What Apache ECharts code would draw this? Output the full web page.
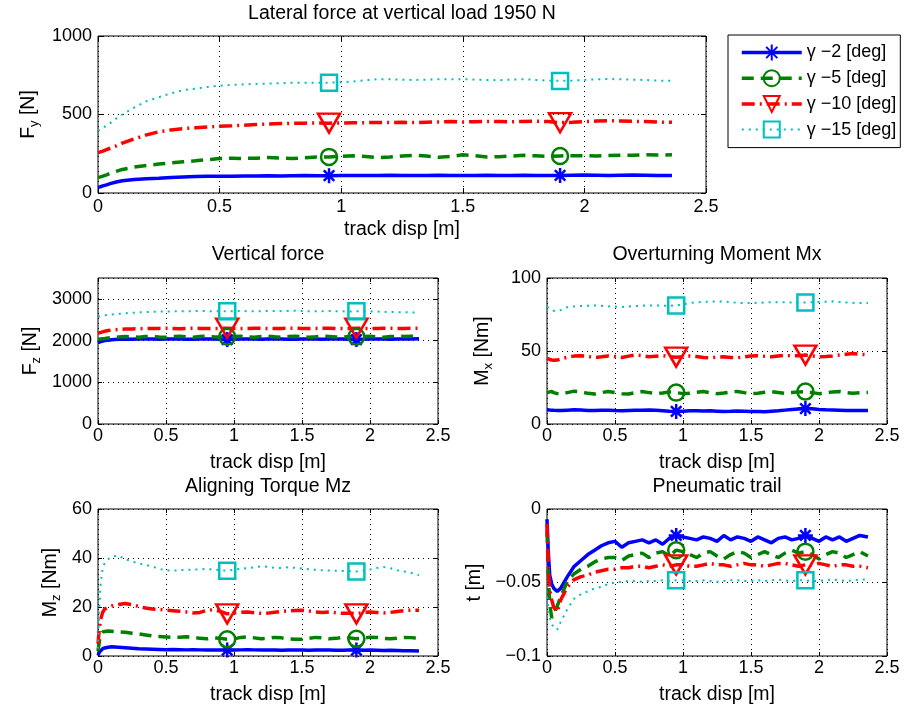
<!DOCTYPE html>
<html>
<head>
<meta charset="utf-8">
<script src="https://cdn.jsdelivr.net/npm/echarts@6/dist/echarts.min.js"></script>
<style>
  html, body { margin: 0; padding: 0; background: #fff; }
  #chart { width: 912px; height: 712px; }
</style>
</head>
<body>
<div id="chart"></div>
<script>
// Track displacement [m] shared by every measured curve
const TRACK_DISP = [0, 0.01, 0.02, 0.035, 0.05, 0.075, 0.1, 0.15, 0.2, 0.25, 0.3, 0.35, 0.4, 0.45, 0.5,
  0.55, 0.6, 0.65, 0.7, 0.75, 0.8, 0.85, 0.9, 0.95, 1.0, 1.05, 1.1, 1.15, 1.2, 1.25, 1.3, 1.35, 1.4, 1.45,
  1.5, 1.55, 1.6, 1.65, 1.7, 1.75, 1.8, 1.85, 1.9, 1.95, 2.0, 2.05, 2.1, 2.15, 2.2, 2.25, 2.3, 2.36];
// Displacements where the curve markers are placed
const MARKER_DISP = [0.95, 1.9];
const CAMBER_NAMES = ['γ −2 [deg]', 'γ −5 [deg]', 'γ −10 [deg]', 'γ −15 [deg]'];

// Lateral force Fy [N]
const FY_2 = [36, 40, 45, 52, 60, 70, 78, 86, 90, 94, 99, 102, 105, 106, 106, 107, 108, 109, 110, 109, 110, 111, 110, 110,
  111, 112, 111, 112, 113, 112, 111, 112, 113, 112, 111, 112, 113, 112, 112, 113, 112, 112, 112, 113, 114, 113, 112, 113, 114, 113, 112, 111];
const FY_5 = [99, 103, 108, 116, 125, 138, 150, 165, 176, 184, 192, 199, 205, 212, 220, 222, 220, 222, 226, 223, 220, 224, 229, 230,
  234, 237, 232, 226, 229, 236, 240, 235, 228, 233, 243, 238, 230, 231, 235, 240, 237, 234, 236, 238, 237, 236, 239, 241, 240, 243, 242, 243];
const FY_10 = [258, 262, 267, 276, 285, 300, 318, 345, 370, 390, 402, 410, 415, 420, 425, 428, 432, 436, 440, 442, 444, 445, 446, 445,
  446, 447, 448, 449, 449, 450, 449, 451, 453, 455, 452, 454, 456, 455, 454, 456, 458, 455, 448, 450, 455, 458, 460, 459, 456, 455, 452, 450];
const FY_15 = [396, 405, 415, 430, 445, 475, 500, 545, 585, 610, 635, 655, 665, 675, 684, 688, 692, 695, 697, 699, 702, 703, 703, 703,
  705, 710, 718, 725, 724, 722, 720, 722, 724, 725, 725, 722, 720, 718, 722, 725, 720, 716, 714, 716, 720, 725, 726, 724, 722, 720, 716, 714];

// Vertical force Fz [N]
const FZ_2 = [1950, 1960, 1975, 1990, 2000, 2010, 2020, 2030, 2035, 2030, 2035, 2040, 2035, 2030, 2035, 2040, 2035, 2030, 2030, 2035,
  2040, 2035, 2030, 2025, 2030, 2035, 2040, 2035, 2030, 2035, 2040, 2035, 2030, 2030, 2035, 2040, 2035, 2030, 2035, 2040, 2035, 2030,
  2025, 2030, 2035, 2040, 2035, 2030, 2035, 2040, 2040, 2045];
const FZ_5 = [2030, 2035, 2040, 2045, 2050, 2060, 2070, 2085, 2095, 2090, 2080, 2095, 2100, 2085, 2080, 2095, 2105, 2090, 2080, 2095,
  2105, 2090, 2080, 2090, 2100, 2105, 2085, 2080, 2095, 2105, 2090, 2080, 2095, 2105, 2090, 2080, 2090, 2105, 2100, 2085, 2080, 2095,
  2090, 2100, 2105, 2090, 2080, 2095, 2105, 2100, 2105, 2110];
const FZ_10 = [2175, 2185, 2195, 2210, 2225, 2240, 2254, 2265, 2275, 2280, 2285, 2288, 2290, 2292, 2295, 2290, 2285, 2290, 2295, 2292,
  2288, 2290, 2293, 2295, 2290, 2288, 2292, 2296, 2294, 2290, 2288, 2292, 2296, 2294, 2290, 2288, 2292, 2296, 2294, 2290, 2288, 2292,
  2295, 2293, 2290, 2292, 2296, 2294, 2290, 2292, 2295, 2295];
const FZ_15 = [2573, 2580, 2585, 2595, 2605, 2615, 2625, 2640, 2655, 2665, 2675, 2685, 2690, 2695, 2695, 2700, 2705, 2700, 2705, 2710,
  2705, 2700, 2705, 2700, 2705, 2710, 2705, 2700, 2705, 2710, 2710, 2705, 2710, 2715, 2710, 2705, 2700, 2705, 2710, 2705, 2700, 2695,
  2700, 2705, 2700, 2695, 2690, 2685, 2680, 2680, 2675, 2670];

// Overturning moment Mx [Nm]
const MX_2 = [9.8, 9.7, 9.6, 9.5, 9.4, 9.3, 9.2, 9.5, 9.7, 9.6, 9.3, 9.2, 9.4, 9.5, 9.2, 9.0, 9.3, 9.5, 9.4, 9.6, 9.4, 9.1, 8.8, 8.6,
  8.8, 9.0, 9.1, 8.9, 9.0, 8.8, 8.6, 8.7, 8.9, 8.8, 8.6, 8.5, 8.4, 8.7, 9.0, 9.5, 9.9, 10.3, 10.6, 10.4, 10.0, 9.7, 9.6, 9.4, 9.2, 9.3, 9.2, 9.2];
const MX_5 = [21.6, 21.8, 22.0, 22.2, 21.5, 20.8, 20.5, 21.5, 22.5, 22.0, 21.0, 20.5, 21.5, 22.3, 21.5, 20.8, 20.6, 21.5, 22.2, 21.5,
  20.8, 21.2, 22.0, 21.5, 20.8, 21.0, 21.8, 22.2, 21.4, 20.8, 21.2, 22.0, 22.3, 21.5, 20.8, 21.0, 21.8, 22.2, 21.6, 21.0, 21.5, 22.0,
  22.2, 21.5, 20.8, 21.2, 22.0, 22.3, 21.5, 21.0, 21.4, 21.6];
const MX_10 = [45.0, 44.6, 44.2, 43.8, 43.6, 43.8, 44.5, 45.8, 46.5, 46.8, 46.3, 45.5, 46.0, 46.6, 46.2, 45.6, 46.5, 47.2, 46.8, 46.0,
  46.4, 46.8, 46.2, 45.8, 46.0, 46.6, 46.2, 45.6, 45.4, 45.8, 46.0, 45.6, 45.4, 46.0, 46.5, 46.8, 46.4, 46.0, 46.6, 47.0, 46.6, 46.8,
  47.2, 46.6, 46.0, 46.2, 46.6, 47.2, 47.8, 48.3, 47.8, 47.4];
const MX_15 = [80.2, 79.5, 78.8, 78.0, 77.5, 77.3, 78.0, 80.0, 80.5, 80.8, 81.0, 81.2, 81.0, 80.6, 80.4, 80.2, 80.5, 80.8, 81.0, 81.2,
  81.2, 81.0, 81.0, 81.2, 82.0, 82.8, 83.4, 83.6, 83.8, 84.0, 83.8, 83.5, 83.0, 82.8, 82.8, 83.0, 83.2, 83.4, 83.4, 83.3, 83.2, 83.2,
  83.2, 83.4, 83.6, 83.8, 84.0, 83.6, 83.2, 83.0, 82.8, 82.8];

// Aligning torque Mz [Nm]
const MZ_2 = [0.3, 1.6, 2.4, 3.0, 3.3, 3.6, 3.8, 3.6, 3.4, 3.2, 3.0, 2.9, 2.8, 2.7, 2.6, 2.7, 2.6, 2.5, 2.6, 2.5, 2.4, 2.5, 2.5, 2.4,
  2.4, 2.5, 2.6, 2.5, 2.4, 2.5, 2.4, 2.3, 2.4, 2.5, 2.4, 2.3, 2.4, 2.5, 2.4, 2.3, 2.3, 2.4, 2.4, 2.3, 2.4, 2.3, 2.2, 2.3, 2.2, 2.1, 2.1, 2.0];
const MZ_5 = [2.0, 6.0, 8.5, 9.8, 10.0, 10.2, 10.1, 9.9, 9.7, 9.3, 9.0, 8.6, 8.2, 8.0, 7.8, 7.6, 7.7, 7.9, 7.6, 7.2, 7.0, 7.4, 7.2, 6.8,
  7.0, 7.6, 7.8, 7.4, 7.0, 7.2, 7.6, 7.4, 7.0, 6.8, 6.8, 7.2, 7.6, 7.4, 7.0, 7.2, 7.6, 7.4, 7.0, 7.3, 7.7, 7.6, 7.2, 7.0, 7.3, 7.6, 7.5, 7.3];
const MZ_10 = [5.0, 11.0, 15.0, 18.0, 19.2, 19.8, 20.4, 21.0, 21.4, 21.0, 20.2, 19.6, 19.2, 19.0, 18.7, 18.5, 18.3, 18.0, 17.6, 17.8,
  18.6, 18.9, 18.2, 17.2, 17.6, 17.8, 18.0, 17.6, 17.4, 17.5, 17.9, 18.2, 18.4, 18.6, 18.7, 18.4, 18.0, 17.8, 18.0, 17.6, 17.4, 17.5,
  17.2, 17.8, 18.0, 17.8, 17.6, 17.8, 18.2, 18.5, 18.7, 18.7];
const MZ_15 = [3.0, 20.0, 30.0, 36.0, 38.0, 39.5, 40.5, 41.0, 39.5, 38.6, 37.8, 37.2, 36.5, 35.6, 34.9, 34.8, 35.0, 35.2, 35.2, 35.4,
  35.5, 35.3, 35.0, 34.8, 35.2, 35.6, 35.9, 36.2, 36.6, 36.4, 36.0, 35.9, 36.2, 36.0, 35.7, 35.4, 35.2, 35.0, 34.9, 34.8, 34.7, 34.6,
  34.5, 34.8, 35.3, 35.9, 36.3, 35.8, 35.0, 34.5, 34.0, 33.0];

// Pneumatic trail t [m]
const TRAIL_2 = [-0.007, -0.030, -0.045, -0.051, -0.054, -0.056, -0.054, -0.046, -0.039, -0.035, -0.031, -0.028, -0.025, -0.023,
  -0.022, -0.026, -0.023, -0.022, -0.021, -0.023, -0.021, -0.024, -0.020, -0.018, -0.019, -0.020, -0.021, -0.019, -0.020, -0.022,
  -0.018, -0.021, -0.019, -0.020, -0.022, -0.019, -0.021, -0.023, -0.020, -0.019, -0.021, -0.020, -0.018, -0.020, -0.022, -0.019,
  -0.021, -0.019, -0.022, -0.020, -0.018, -0.019];
const TRAIL_5 = [-0.015, -0.045, -0.065, -0.074, -0.072, -0.066, -0.060, -0.049, -0.044, -0.041, -0.039, -0.036, -0.034, -0.033,
  -0.033, -0.035, -0.032, -0.031, -0.030, -0.033, -0.030, -0.029, -0.032, -0.028, -0.029, -0.031, -0.033, -0.030, -0.029, -0.032,
  -0.034, -0.031, -0.029, -0.030, -0.033, -0.031, -0.029, -0.031, -0.033, -0.030, -0.028, -0.030, -0.029, -0.031, -0.034, -0.031,
  -0.029, -0.030, -0.033, -0.031, -0.029, -0.032];
const TRAIL_10 = [-0.010, -0.040, -0.055, -0.062, -0.067, -0.070, -0.062, -0.053, -0.048, -0.046, -0.045, -0.043, -0.042, -0.041,
  -0.041, -0.040, -0.040, -0.039, -0.039, -0.040, -0.039, -0.038, -0.039, -0.038, -0.038, -0.039, -0.039, -0.038, -0.037, -0.038,
  -0.038, -0.039, -0.038, -0.037, -0.038, -0.038, -0.039, -0.038, -0.037, -0.037, -0.038, -0.039, -0.038, -0.038, -0.037, -0.038,
  -0.039, -0.038, -0.038, -0.039, -0.039, -0.040];
const TRAIL_15 = [-0.060, -0.068, -0.074, -0.078, -0.081, -0.082, -0.077, -0.068, -0.061, -0.058, -0.056, -0.054, -0.053, -0.051,
  -0.050, -0.0495, -0.049, -0.049, -0.0495, -0.049, -0.049, -0.0485, -0.049, -0.0485, -0.0485, -0.049, -0.049, -0.0485, -0.049,
  -0.0495, -0.049, -0.0485, -0.0485, -0.049, -0.049, -0.0485, -0.049, -0.0485, -0.048, -0.0485, -0.049, -0.0485, -0.0485, -0.049,
  -0.049, -0.0485, -0.048, -0.0485, -0.049, -0.0485, -0.048, -0.048];

const FONT = '"Liberation Sans", Arial, Helvetica, sans-serif';
const TICK_FONT = 18;
const LABEL_FONT = 19.5;

// Asterisk marker made of four stroked spokes
const ASTERISK = 'path://M0,-10L0,10M-10,0L10,0M-7,-7L7,7M-7,7L7,-7';

const CURVE_STYLES = [
  { color: '#0000ff', width: 3.5, type: 'solid', symbol: ASTERISK, size: 15, rotate: 0 },
  { color: '#008000', width: 3.5, type: [12, 7], symbol: 'circle', size: 16, rotate: 0 },
  { color: '#ff0000', width: 3.5, type: [13, 5, 2, 5], symbol: 'triangle', size: [22, 19], rotate: 180 },
  { color: '#00bfbf', width: 2, type: [2, 5], symbol: 'rect', size: 16, rotate: 0 }
];

const PANELS = [
  { title: 'Lateral force at vertical load 1950 N', box: [98, 36, 608, 157], titleTop: 4,
    yMin: 0, yMax: 1000, yStep: 500, yName: '{m|F}{s|y}{m| [N]}', yGap: 51,
    curves: [FY_2, FY_5, FY_10, FY_15], tick: 5, xMargin: 5, xNameGap: 27 },
  { title: 'Vertical force', box: [98, 278, 340, 146], titleTop: 245,
    yMin: 0, yMax: 3500, yStep: 1000, yName: '{m|F}{s|z}{m| [N]}', yGap: 55, hideMax: true,
    curves: [FZ_2, FZ_5, FZ_10, FZ_15], tick: 4, xMargin: 3, xNameGap: 29 },
  { title: 'Overturning Moment Mx', box: [547, 278, 340, 146], titleTop: 245,
    yMin: 0, yMax: 100, yStep: 50, yName: '{m|M}{s|x}{m| [Nm]}', yGap: 52,
    curves: [MX_2, MX_5, MX_10, MX_15], tick: 4, xMargin: 3, xNameGap: 29 },
  { title: 'Aligning Torque Mz', box: [98, 509, 340, 147], titleTop: 477,
    yMin: 0, yMax: 60, yStep: 20, yName: '{m|M}{s|z}{m| [Nm]}', yGap: 35,
    curves: [MZ_2, MZ_5, MZ_10, MZ_15], tick: 4, xMargin: 3, xNameGap: 29 },
  { title: 'Pneumatic trail', box: [547, 509, 340, 147], titleTop: 477,
    yMin: -0.1, yMax: 0, yStep: 0.05, yName: '{m|t [m]}', yGap: 60,
    curves: [TRAIL_2, TRAIL_5, TRAIL_10, TRAIL_15], tick: 4, xMargin: 3, xNameGap: 29 }
];

function tickText(v) {
  const s = String(parseFloat(Number(v).toPrecision(10)));
  return s.replace('-', '\u2212');
}

const textBase = { fontFamily: FONT, color: '#000' };
const option = {
  animation: false,
  backgroundColor: '#fff',
  title: [], grid: [], xAxis: [], yAxis: [], series: [],
  legend: {
    orient: 'vertical', left: 728, top: 35,
    padding: [7.5, 4, 8, 12], itemGap: 5.7, itemWidth: 60, itemHeight: 20,
    borderColor: '#000', borderWidth: 1, backgroundColor: '#fff',
    selectedMode: false,
    textStyle: Object.assign({ fontSize: 18, lineHeight: 20 }, textBase),
    data: CAMBER_NAMES.map((name, k) => ({
      name: name,
      itemStyle: { color: 'transparent', borderColor: CURVE_STYLES[k].color, borderWidth: 2 },
      lineStyle: { color: CURVE_STYLES[k].color, width: CURVE_STYLES[k].width, type: CURVE_STYLES[k].type }
    }))
  }
};

const gridLine = { show: true, lineStyle: { color: '#000', width: 1, type: [1, 4] } };

PANELS.forEach((p, i) => {
  const [left, top, width, height] = p.box;
  option.grid.push({ left: left, top: top, width: width, height: height, show: true,
    borderColor: '#000', borderWidth: 1, backgroundColor: '#fff' });
  option.title.push({ text: p.title, left: left + width / 2, top: p.titleTop, textAlign: 'center', padding: 0,
    textStyle: Object.assign({ fontSize: LABEL_FONT, fontWeight: 'normal' }, textBase) });

  const ticks = { inside: true, length: p.tick, lineStyle: { color: '#000', width: 1 } };
  const xRange = { gridIndex: i, type: 'value', min: 0, max: 2.5, interval: 0.5 };
  option.xAxis.push(Object.assign({}, xRange, {
    position: 'bottom',
    axisLine: { show: false, onZero: false }, axisTick: ticks,
    axisLabel: Object.assign({ margin: p.xMargin, fontSize: TICK_FONT, formatter: tickText }, textBase),
    splitLine: gridLine,
    name: 'track disp [m]', nameLocation: 'middle', nameGap: p.xNameGap,
    nameTextStyle: Object.assign({ fontSize: LABEL_FONT }, textBase)
  }));
  option.xAxis.push(Object.assign({}, xRange, {
    position: 'top', axisLine: { show: false, onZero: false }, axisTick: ticks,
    axisLabel: { show: false }, splitLine: { show: false }
  }));

  const yRange = { gridIndex: i, type: 'value', min: p.yMin, max: p.yMax, interval: p.yStep };
  option.yAxis.push(Object.assign({}, yRange, {
    position: 'left',
    axisLine: { show: false, onZero: false }, axisTick: ticks,
    axisLabel: Object.assign({ margin: 6, fontSize: TICK_FONT, formatter: tickText, showMaxLabel: !p.hideMax }, textBase),
    splitLine: gridLine,
    name: p.yName, nameLocation: 'middle', nameRotate: 90, nameGap: p.yGap,
    nameTextStyle: Object.assign({
      fontSize: LABEL_FONT,
      rich: {
        m: Object.assign({ fontSize: LABEL_FONT, lineHeight: 22, verticalAlign: 'top' }, textBase),
        s: Object.assign({ fontSize: 13, lineHeight: 6, verticalAlign: 'bottom' }, textBase)
      }
    }, textBase)
  }));
  option.yAxis.push(Object.assign({}, yRange, {
    position: 'right', axisLine: { show: false, onZero: false }, axisTick: ticks,
    axisLabel: { show: false }, splitLine: { show: false }
  }));

  p.curves.forEach((values, k) => {
    const st = CURVE_STYLES[k];
    option.series.push({
      name: CAMBER_NAMES[k], type: 'line',
      xAxisIndex: 2 * i, yAxisIndex: 2 * i,
      data: TRACK_DISP.map((x, j) => MARKER_DISP.indexOf(x) >= 0
        ? [x, values[j]]
        : { value: [x, values[j]], symbol: 'none' }),
      symbol: st.symbol, symbolSize: st.size, symbolRotate: st.rotate,
      showSymbol: true, showAllSymbol: true,
      lineStyle: { color: st.color, width: st.width, type: st.type },
      itemStyle: { color: 'transparent', borderColor: st.color, borderWidth: 2.5 },
      emphasis: { disabled: true }, silent: true
    });
  });
});

const chart = echarts.init(document.getElementById('chart'), null, { renderer: 'canvas' });
chart.setOption(option);
</script>
</body>
</html>
